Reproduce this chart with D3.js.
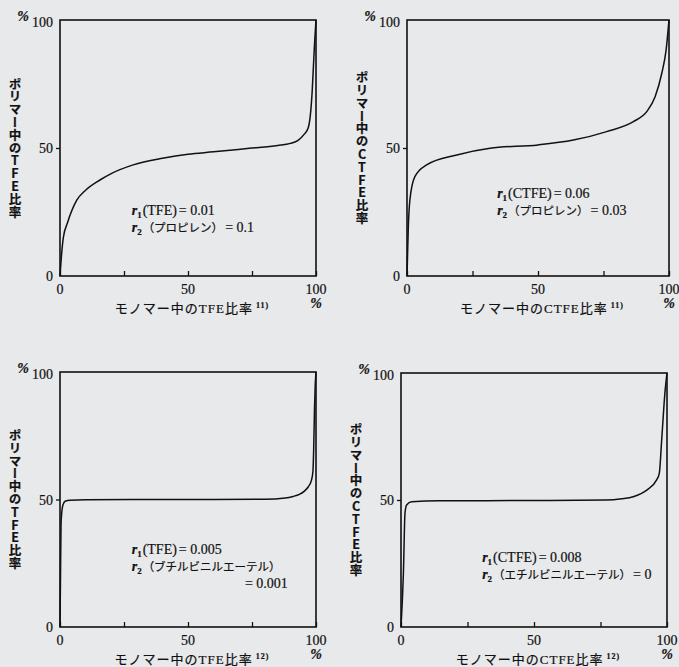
<!DOCTYPE html>
<html>
<head>
<meta charset="utf-8">
<script src="https://cdn.jsdelivr.net/npm/d3@7"></script>
<style>
  body { margin: 0; background: #e8e9eb; }
  svg { display: block; }
  text { fill: #111; stroke: #111; stroke-width: 0.2px; font-family: "Liberation Serif", "Noto Sans CJK JP", serif; }
  .vtitle { writing-mode: vertical-rl; text-orientation: upright; font-family: "Noto Sans CJK JP", sans-serif; font-weight: bold; }
</style>
</head>
<body>
<div id="chart"></div>
<script>
// monomer ratio (%) -> polymer ratio (%)
var tfePropylene = [
  [0, 0], [0.5, 7], [1.3, 15], [3, 21], [6.5, 29.5], [10, 33.5], [15.6, 37.5], [20, 40],
  [28.6, 43.4], [40, 46], [50, 47.6], [60, 48.5], [74, 49.9], [85, 51], [90, 51.8],
  [93, 53], [95.5, 55.5], [97, 58], [98, 65], [98.5, 72], [99, 82], [99.5, 92], [100, 100]
];
var ctfePropylene = [
  [0, 0], [0.5, 19], [1.1, 29.7], [3, 38.8], [7.5, 43.4], [19, 47.3], [31.7, 49.9],
  [50, 51.2], [63.5, 53.1], [76.2, 56.4], [86.4, 60.3], [91.5, 64.2], [94.7, 70],
  [97.2, 79], [98.9, 88.3], [100, 100]
];
var tfeBve = [
  [0, 0], [0.2, 20], [0.4, 40], [0.7, 45], [1.2, 48], [2, 49.3], [4, 49.7], [10, 49.9],
  [50, 50], [80, 50.1], [88, 50.6], [91, 51.2], [93.5, 52], [95.5, 53.3], [97, 55],
  [98.2, 57.5], [98.8, 61], [99.1, 70], [99.4, 85], [99.7, 95], [100, 100]
];
var ctfeEve = [
  [0, 0], [0.9, 21], [1.5, 44.8], [2.1, 48], [4, 49.3], [14.7, 49.7], [50, 49.8],
  [77, 50], [83, 50.5], [87.3, 51.3], [92.4, 53.9], [96.1, 57.9], [97.1, 60.5],
  [98, 73.6], [99.2, 92], [100, 100]
];

var xTicks = [0, 25, 50, 75, 100];
var xTickLabels = [0, 50, 100];
var yTickLabels = [0, 50, 100];

var yTitles = ["ポリマー中のTFE比率", "ポリマー中のCTFE比率", "ポリマー中のTFE比率", "ポリマー中のCTFE比率"];
var xTitles = ["モノマー中のTFE比率", "モノマー中のCTFE比率", "モノマー中のTFE比率", "モノマー中のCTFE比率"];
var refs = ["11)", "11)", "12)", "12)"];
var r1Labels = [["(TFE)", "0.01"], ["(CTFE)", "0.06"], ["(TFE)", "0.005"], ["(CTFE)", "0.008"]];
var r2Labels = [["（プロピレン）", "0.1"], ["（プロピレン）", "0.03"], ["（ブチルビニルエーテル）", ""], ["（エチルビニルエーテル）", "0"]];

var svg = d3.select("#chart").append("svg")
  .attr("width", 679)
  .attr("height", 667);

var panels = [
  {data: tfePropylene,  left: 60,  right: 316, top: 20,  bottom: 276, note: [28, 23.8]},
  {data: ctfePropylene, left: 407, right: 669, top: 20,  bottom: 276, note: [34.4, 30.5]},
  {data: tfeBve,        left: 60,  right: 316, top: 372, bottom: 627, note: [28, 28.6], tail: "0.001"},
  {data: ctfeEve,       left: 401, right: 667, top: 373, bottom: 627, note: [30.5, 25.6]}
];

panels.forEach(function(p, i) { drawPanel(p, i); });

function drawPanel(p, i) {
  var x = d3.scaleLinear().domain([0, 100]).range([p.left, p.right]);
  var y = d3.scaleLinear().domain([0, 100]).range([p.bottom, p.top]);
  var g = svg.append("g");

  // frame
  g.append("rect")
    .attr("x", p.left).attr("y", p.top)
    .attr("width", p.right - p.left).attr("height", p.bottom - p.top)
    .attr("fill", "none").attr("stroke", "#111").attr("stroke-width", 1.6);

  // x ticks (inward)
  var xa = g.append("g")
    .attr("transform", "translate(0," + p.bottom + ")")
    .call(d3.axisBottom(x).tickValues(xTicks).tickSize(-5).tickFormat(""));
  xa.select(".domain").remove();
  xa.selectAll("line").attr("stroke", "#111").attr("stroke-width", 1.3);

  // y tick at 50 (outward)
  var ya = g.append("g")
    .attr("transform", "translate(" + p.left + ",0)")
    .call(d3.axisLeft(y).tickValues([50]).tickSize(4).tickFormat(""));
  ya.select(".domain").remove();
  ya.selectAll("line").attr("stroke", "#111").attr("stroke-width", 1.3);

  // tick labels
  g.selectAll(".xl").data(xTickLabels).enter().append("text")
    .attr("x", function(d) { return x(d); })
    .attr("y", p.bottom + 18)
    .attr("text-anchor", "middle")
    .style("font-size", "14px")
    .text(function(d) { return d; });

  g.selectAll(".yl").data(yTickLabels).enter().append("text")
    .attr("x", p.left - 7)
    .attr("y", function(d) { return y(d) + (d == 100 ? 7 : 5); })
    .attr("text-anchor", "end")
    .style("font-size", "14px")
    .text(function(d) { return d; });

  // percent signs
  g.append("text")
    .attr("x", p.left - 37).attr("y", p.top + 1)
    .attr("text-anchor", "middle")
    .style("font-size", "14px").style("font-style", "italic").style("font-weight", "bold")
    .text("%");
  g.append("text")
    .attr("x", x(100)).attr("y", p.bottom + 32)
    .attr("text-anchor", "middle")
    .style("font-size", "14px").style("font-style", "italic").style("font-weight", "bold")
    .text("%");

  // y title, vertical
  g.append("text")
    .attr("class", "vtitle")
    .attr("x", p.left - 45)
    .attr("y", (p.top + p.bottom) / 2)
    .attr("text-anchor", "middle")
    .style("font-size", "12.5px")
    .style("letter-spacing", "0.3px")
    .text(yTitles[i]);

  // x title
  var xt = g.append("text")
    .attr("x", (p.left + p.right) / 2 + 4)
    .attr("y", p.bottom + 37)
    .attr("text-anchor", "middle")
    .style("font-size", "13px")
    .style("letter-spacing", "1px");
  xt.append("tspan").text(xTitles[i]);
  xt.append("tspan").attr("dy", -5).style("font-size", "8px").style("font-weight", "bold").text(" " + refs[i]);

  // curve
  var line = d3.line()
    .x(function(d) { return x(d[0]); })
    .y(function(d) { return y(d[1]); })
    .curve(d3.curveMonotoneX);
  g.append("path")
    .datum(p.data)
    .attr("d", line)
    .attr("fill", "none")
    .attr("stroke", "#111")
    .attr("stroke-width", 1.5);

  // reactivity ratios
  var nx = x(p.note[0]), ny = y(p.note[1]);
  [r1Labels[i], r2Labels[i]].forEach(function(lab, k) {
    var t = g.append("text")
      .attr("x", nx)
      .attr("y", ny + k * 17)
      .style("font-size", "14px");
    t.append("tspan").style("font-style", "italic").style("font-weight", "bold").text("r");
    t.append("tspan").attr("dy", 3).style("font-size", "9px").style("font-weight", "bold").text(k + 1);
    t.append("tspan").attr("dy", -3).attr("dx", 1)
      .style("font-size", k == 1 ? "11.5px" : "14px")
      .text(lab[0]);
    if (lab[1] !== "") t.append("tspan").attr("dx", 2).text("= " + lab[1]);
  });
  if (p.tail) {
    g.append("text")
      .attr("x", x(89))
      .attr("y", ny + 34)
      .attr("text-anchor", "end")
      .style("font-size", "14px")
      .text("= " + p.tail);
  }
}
</script>
</body>
</html>
